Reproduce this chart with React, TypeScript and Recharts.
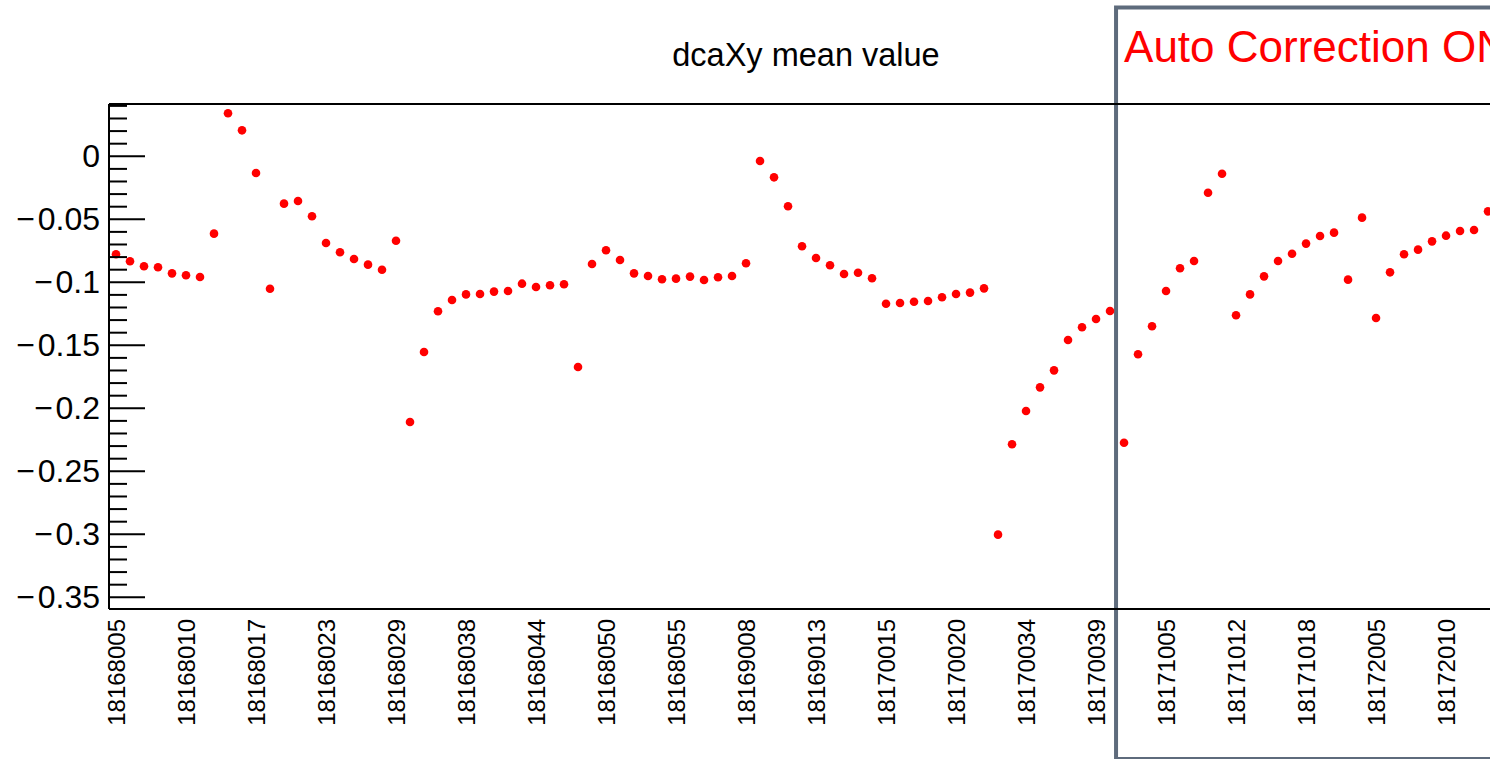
import React from "react";
import {
  ScatterChart,
  Scatter,
  XAxis,
  YAxis,
  ReferenceArea,
  ReferenceLine,
} from "recharts";

// dcaXy mean per run bin (bin index = position in the list)
const meanValues = [
  -0.0778, -0.0833, -0.0873, -0.0881, -0.0929, -0.0944, -0.0958, -0.0614, 0.0341, 0.0206,
  -0.0133, -0.1051, -0.0376, -0.0355, -0.0476, -0.0688, -0.0762, -0.0815, -0.086, -0.09,
  -0.067, -0.2109, -0.1553, -0.123, -0.1141, -0.1096, -0.1093, -0.1074, -0.1069, -0.1011,
  -0.1037, -0.1024, -0.1016, -0.1672, -0.0855, -0.0746, -0.0823, -0.0929, -0.095, -0.0976,
  -0.0971, -0.0955, -0.0982, -0.096, -0.095, -0.0849, -0.0037, -0.0167, -0.0397, -0.0714,
  -0.0807, -0.0865, -0.0934, -0.0924, -0.0968, -0.117, -0.1164, -0.1154, -0.1148, -0.1119,
  -0.1093, -0.1082, -0.1048, -0.3003, -0.2286, -0.2021, -0.1834, -0.1699, -0.1458, -0.1357,
  -0.1291, -0.1228, -0.2273, -0.1571, -0.1349, -0.1069, -0.0889, -0.0831, -0.0289, -0.0138,
  -0.1262, -0.1096, -0.0953, -0.0831, -0.0773, -0.0693, -0.0633, -0.0606, -0.0979, -0.0487,
  -0.1283, -0.0921, -0.0778, -0.0741, -0.0675, -0.063, -0.0593, -0.0585, -0.0437,
];

// labelled bins and their run numbers
const tickBins = [0, 5, 10, 15, 20, 25, 30, 35, 40, 45, 50, 55, 60, 65, 70, 75, 80, 85, 90, 95];
const tickRuns = [
  "18168005", "18168010", "18168017", "18168023", "18168029",
  "18168038", "18168044", "18168050", "18168055", "18169008",
  "18169013", "18170015", "18170020", "18170034", "18170039",
  "18171005", "18171012", "18171018", "18172005", "18172010",
];

const yTicks = [
  0.04, 0.03, 0.02, 0.01, 0, -0.01, -0.02, -0.03, -0.04, -0.05,
  -0.06, -0.07, -0.08, -0.09, -0.1, -0.11, -0.12, -0.13, -0.14, -0.15,
  -0.16, -0.17, -0.18, -0.19, -0.2, -0.21, -0.22, -0.23, -0.24, -0.25,
  -0.26, -0.27, -0.28, -0.29, -0.3, -0.31, -0.32, -0.33, -0.34, -0.35,
];

const Y_MIN = -0.3593;
const Y_MAX = 0.0415;

const points = meanValues.map((v, i) => ({ bin: i, value: v }));

const FONT = "'Liberation Sans', Arial, Helvetica, sans-serif";

const YTick = (props: any) => {
  const { x, y, payload } = props;
  const v = payload.value;
  const major = Math.round(v * 100) % 5 === 0;
  const label = v === 0 ? "0" : "\u2212\u200a" + String(Math.abs(v));
  return (
    <g>
      <line x1={x} x2={x + (major ? 36 : 18)} y1={y} y2={y} stroke="#000" strokeWidth={2} />
      {major && (
        <text x={x - 9} y={y} textAnchor="end" dominantBaseline="central" fontSize={32} fontFamily={FONT} fill="#000">
          {label}
        </text>
      )}
    </g>
  );
};

const XTick = (props: any) => {
  const { x, y, payload } = props;
  const idx = tickBins.indexOf(payload.value);
  return (
    <text
      transform={`translate(${x},${y + 8}) rotate(-90)`}
      textAnchor="end"
      dominantBaseline="central"
      fontSize={24}
      fontFamily={FONT}
      fill="#000"
    >
      {tickRuns[idx]}
    </text>
  );
};

const BoxLabel = (props: any) => {
  const vb = props.viewBox;
  return (
    <text x={vb.x + 8} y={vb.y + 55} fontSize={44} fontFamily={FONT} fill="#ff0000">
      Auto Correction ON
    </text>
  );
};

export default function App() {
  return (
    <div style={{ position: "absolute", left: 0, top: 0, width: 1490, height: 759, overflow: "hidden", background: "#fff" }}>
      <ScatterChart width={1490} height={759} margin={{ top: 104, right: 0, bottom: 0, left: 0 }}>
        <XAxis
          type="number"
          dataKey="bin"
          domain={[-0.5, 98.14]}
          allowDataOverflow
          ticks={tickBins}
          interval={0}
          tick={<XTick />}
          tickLine={false}
          tickSize={0}
          height={150}
          axisLine={{ stroke: "#000", strokeWidth: 2 }}
        />
        <YAxis
          type="number"
          dataKey="value"
          domain={[Y_MIN, Y_MAX]}
          allowDataOverflow
          ticks={yTicks}
          interval={0}
          tick={<YTick />}
          tickLine={false}
          tickSize={0}
          tickMargin={0}
          width={109}
          axisLine={{ stroke: "#000", strokeWidth: 2 }}
        />
        <ReferenceLine y={Y_MAX} stroke="#000" strokeWidth={2} ifOverflow="visible" />
        <text x={806} y={66} textAnchor="middle" fontSize={32.5} fontFamily={FONT} fill="#000">
          dcaXy mean value
        </text>
        <Scatter
          data={points}
          isAnimationActive={false}
          shape={(p: any) => <circle cx={p.cx} cy={p.cy} r={4.3} fill="#ff0000" />}
        />
        <ReferenceArea
          x1={71.43}
          x2={120}
          y1={-0.4783}
          y2={0.1181}
          ifOverflow="visible"
          fill="none"
          fillOpacity={0}
          stroke="#5e6b7c"
          strokeWidth={4}
          label={<BoxLabel />}
        />
      </ScatterChart>
    </div>
  );
}
